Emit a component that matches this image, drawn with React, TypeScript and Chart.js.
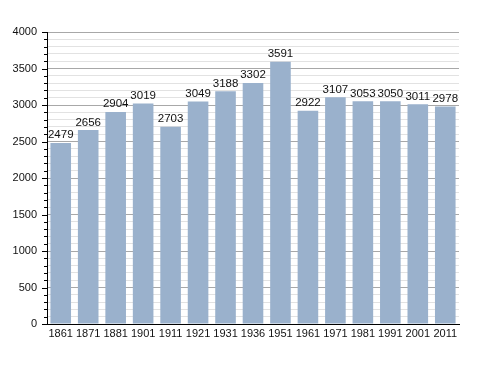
import React, { useEffect, useRef } from "react";
import { Chart, registerables } from "chart.js";

Chart.register(...registerables);

const years = ["1861", "1871", "1881", "1901", "1911", "1921", "1931", "1936", "1951", "1961", "1971", "1981", "1991", "2001", "2011"];
const population = [2479, 2656, 2904, 3019, 2703, 3049, 3188, 3302, 3591, 2922, 3107, 3053, 3050, 3011, 2978];
const yMax = 4000;
const yMinorStep = 100;
const yMajorStep = 500;

const FONT = "'Liberation Sans', Arial, sans-serif";

const tickMarks = {
  id: "tickMarks",
  afterDraw(chart: any) {
    const y = chart.scales.y;
    const ctx = chart.ctx;
    ctx.save();
    ctx.strokeStyle = "#000";
    ctx.lineWidth = 1;
    for (let v = 0; v <= yMax; v += yMinorStep) {
      const py = Math.round(y.getPixelForValue(v)) + 0.5;
      const len = v % yMajorStep === 0 ? 5 : 3;
      ctx.beginPath();
      ctx.moveTo(y.right - len, py);
      ctx.lineTo(y.right, py);
      ctx.stroke();
    }
    ctx.restore();
  },
};

const valueLabels = {
  id: "valueLabels",
  afterDatasetsDraw(chart: any) {
    const ctx = chart.ctx;
    const meta = chart.getDatasetMeta(0);
    ctx.save();
    ctx.fillStyle = "#111";
    ctx.font = `11.5px ${FONT}`;
    ctx.textAlign = "center";
    ctx.textBaseline = "bottom";
    meta.data.forEach((el: any, i: number) => {
      ctx.fillText(String(population[i]), el.x, el.y - 2);
    });
    ctx.restore();
  },
};

export default function App() {
  const ref = useRef<HTMLCanvasElement>(null);
  useEffect(() => {
    if (!ref.current) return;
    const chart = new Chart(ref.current, {
      type: "bar",
      data: {
        labels: years,
        datasets: [
          {
            data: population,
            backgroundColor: "#9ab1cc",
            borderWidth: 0,
            barPercentage: 0.75,
            categoryPercentage: 1,
          },
        ],
      },
      options: {
        animation: false,
        responsive: false,
        maintainAspectRatio: false,
        layout: { padding: { top: 32, right: 29, left: 0, bottom: 0 } },
        plugins: { legend: { display: false }, tooltip: { enabled: false } },
        scales: {
          x: {
            grid: { display: false, drawTicks: false },
            border: { display: true, color: "#000", width: 1 },
            ticks: { color: "#111", font: { family: FONT, size: 11 }, padding: 3, maxRotation: 0, autoSkip: false },
            afterFit(scale: any) {
              scale.height = 49;
            },
          },
          y: {
            min: 0,
            max: yMax,
            grid: {
              drawTicks: false,
              color: (c: any) => (c.tick && c.tick.value % yMajorStep === 0 ? "#a8a8a8" : "#e2e2e2"),
            },
            border: { display: true, color: "#000", width: 1 },
            ticks: {
              stepSize: yMinorStep,
              autoSkip: false,
              padding: 10,
              color: "#111",
              font: { family: FONT, size: 11 },
              callback: (v: any) => (Number(v) % yMajorStep === 0 ? String(v) : ""),
            },
            afterFit(scale: any) {
              scale.width = 47;
            },
          },
        },
      },
      plugins: [tickMarks, valueLabels],
    });
    return () => chart.destroy();
  }, []);
  return (
    <div style={{ position: "fixed", left: 0, top: 0, width: 488, height: 373, background: "#fff" }}>
      <canvas ref={ref} width={488} height={373} style={{ width: 488, height: 373 }} />
    </div>
  );
}
